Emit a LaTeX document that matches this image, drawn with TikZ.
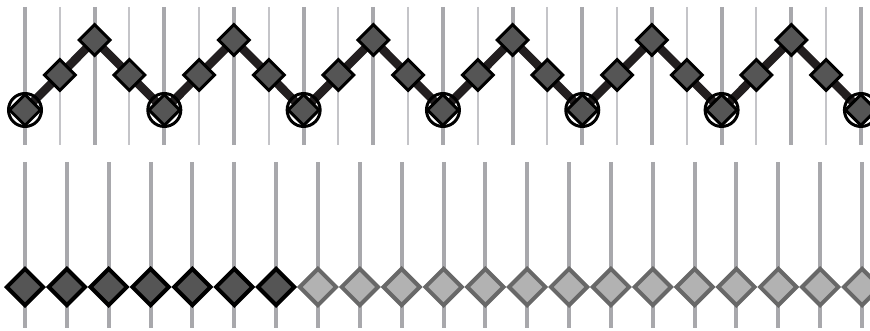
\documentclass[tikz,border=0pt]{standalone}
\usetikzlibrary{shapes.geometric}

\definecolor{railgray}{RGB}{168,168,172}
\definecolor{railpale}{RGB}{196,196,200}
\definecolor{zigdark}{RGB}{35,31,32}
\definecolor{markdark}{RGB}{85,85,85}
\definecolor{offfill}{RGB}{178,178,178}
\definecolor{offedge}{RGB}{104,104,104}

\pgfdeclarelayer{back}
\pgfsetlayers{back,main}

\begin{document}
\begin{tikzpicture}[x=1pt, y=-1pt,
        thickrail/.style={line width=4pt, draw=railgray},
        thinrail/.style={line width=2pt, draw=railpale},
        zig/.style={line width=8.5pt, draw=zigdark, line join=miter},
        dmark/.style={diamond, draw=black, fill=markdark, line width=3pt,
                      minimum size=32pt, inner sep=0pt},
        ring/.style={circle, draw=black, line width=3pt,
                     minimum size=33pt, inner sep=0pt},
        bigon/.style={diamond, draw=black, fill=markdark, line width=4pt,
                      minimum size=38pt, inner sep=0pt},
        bigoff/.style={diamond, draw=offedge, fill=offfill, line width=4pt,
                       minimum size=38pt, inner sep=0pt}
    ]
    \useasboundingbox (0,0) rectangle (870,331);

    % upper row: zigzag over the rails
    \foreach \i in {0,...,24} {
        \pgfmathsetmacro\px{25+34.83*\i}
        \pgfmathtruncatemacro\r{mod(\i,4)}
        \pgfmathsetmacro\py{110-35*min(\r,4-\r)}
        \coordinate (ut\i) at (\px,7);
        \coordinate (ub\i) at (\px,145);
        \begin{pgfonlayer}{back}
            \ifodd\i
                \draw[thinrail] (ut\i) -- (ub\i);
            \else
                \draw[thickrail] (ut\i) -- (ub\i);
            \fi
        \end{pgfonlayer}
        \node[dmark] (z\i) at (\px,\py) {};
    }
    \begin{pgfonlayer}{back}
        \draw[zig] (z0.center) \foreach \i in {1,...,24} { -- (z\i.center) };
    \end{pgfonlayer}
    \foreach \i in {0,4,...,24}
        \node[ring] (ring\i) at (z\i) {};

    % lower row: seven set, the rest unset
    \foreach \i in {0,...,20} {
        \pgfmathsetmacro\px{25+41.85*\i}
        \coordinate (lt\i) at (\px,162);
        \coordinate (lb\i) at (\px,328);
        \begin{pgfonlayer}{back}
            \draw[thickrail] (lt\i) -- (lb\i);
        \end{pgfonlayer}
        \ifnum\i<7
            \node[bigon] (b\i) at (\px,287) {};
        \else
            \node[bigoff] (b\i) at (\px,287) {};
        \fi
    }
\end{tikzpicture}
\end{document}
